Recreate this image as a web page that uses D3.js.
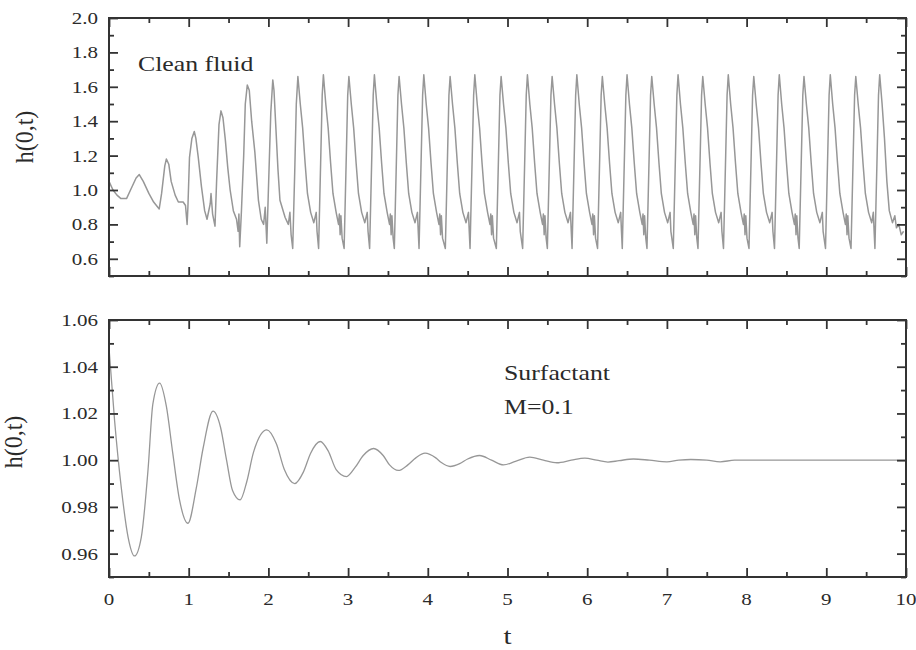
<!DOCTYPE html>
<html>
<head>
<meta charset="utf-8">
<script src="https://cdn.jsdelivr.net/npm/d3@7"></script>
<style>
    body { margin: 0; background: #fff; }
    svg text { font-family: "Liberation Serif", "Times New Roman", serif; fill: #2a2a2a; }
</style>
</head>
<body>
<svg id="chart" width="916" height="650"></svg>
<script>
// ---- data: [t, h(0,t)] ----
const cleanFluid = [
    [0.00,1.05],[0.05,1.00],[0.10,0.97],[0.15,0.95],[0.22,0.95],[0.28,1.01],[0.34,1.07],[0.38,1.09],
    [0.43,1.05],[0.50,0.98],[0.56,0.93],[0.63,0.89],[0.66,0.98],[0.70,1.14],[0.72,1.18],[0.75,1.15],
    [0.78,1.05],[0.83,0.97],[0.87,0.93],[0.93,0.93],[0.96,0.91],[0.98,0.80],[0.99,0.90],[1.01,1.19],
    [1.04,1.30],[1.07,1.34],[1.09,1.30],[1.12,1.19],[1.16,1.02],[1.20,0.88],[1.23,0.83],[1.27,0.92],
    [1.28,0.98],[1.30,0.86],[1.33,0.79],[1.35,1.05],[1.38,1.38],[1.405,1.46],[1.43,1.42],[1.46,1.29],
    [1.49,1.13],[1.52,1.00],[1.56,0.88],[1.60,0.83],[1.62,0.76],[1.63,0.86],[1.64,0.67],[1.66,0.86],
    [1.69,1.20],[1.71,1.50],[1.735,1.61],[1.76,1.58],[1.79,1.40],[1.83,1.22],[1.875,0.94],[1.91,0.83],
    [1.94,0.80],[1.96,0.90],[1.98,0.69],[2.00,1.00],[2.03,1.45],[2.055,1.64],[2.07,1.58],[2.095,1.35],
    [2.12,1.12],[2.145,0.94],[2.21,0.84],[2.25,0.80],[2.27,0.87],[2.285,0.74],[2.305,0.66],[2.33,1.10],
    [2.35,1.50],
    [2.37,1.66],[2.40,1.50],[2.43,1.36],[2.46,1.16],[2.49,0.98],[2.53,0.87],[2.57,0.81],[2.60,0.87],[2.61,0.76],[2.63,0.66],[2.655,1.15],[2.675,1.55],
    [2.69,1.67],[2.72,1.50],[2.75,1.36],[2.78,1.16],[2.81,0.98],[2.85,0.87],[2.88,0.80],[2.89,0.86],[2.90,0.74],[2.91,0.85],[2.925,0.72],[2.95,0.66],[2.975,1.15],[2.995,1.55],
    [3.01,1.66],[3.04,1.50],[3.07,1.36],[3.10,1.16],[3.13,0.98],[3.17,0.87],[3.21,0.81],[3.24,0.87],[3.25,0.76],[3.27,0.66],[3.295,1.15],[3.315,1.55],
    [3.33,1.67],[3.36,1.50],[3.39,1.36],[3.42,1.16],[3.45,0.98],[3.49,0.87],[3.52,0.80],[3.53,0.86],[3.54,0.74],[3.55,0.85],[3.565,0.72],[3.58,0.66],[3.605,1.15],[3.625,1.55],
    [3.64,1.66],[3.67,1.50],[3.70,1.36],[3.73,1.16],[3.76,0.98],[3.80,0.87],[3.84,0.81],[3.87,0.87],[3.88,0.76],[3.89,0.66],[3.915,1.15],[3.935,1.55],
    [3.95,1.67],[3.98,1.50],[4.01,1.36],[4.04,1.16],[4.07,0.98],[4.11,0.87],[4.14,0.80],[4.15,0.86],[4.16,0.74],[4.17,0.85],[4.185,0.72],[4.22,0.66],[4.245,1.15],[4.265,1.55],
    [4.28,1.66],[4.31,1.50],[4.34,1.36],[4.37,1.16],[4.40,0.98],[4.44,0.87],[4.48,0.81],[4.51,0.87],[4.52,0.76],[4.53,0.66],[4.555,1.15],[4.575,1.55],
    [4.59,1.67],[4.62,1.50],[4.65,1.36],[4.68,1.16],[4.71,0.98],[4.75,0.87],[4.78,0.80],[4.79,0.86],[4.80,0.74],[4.81,0.85],[4.825,0.72],[4.86,0.66],[4.885,1.15],[4.905,1.55],
    [4.92,1.66],[4.95,1.50],[4.98,1.36],[5.01,1.16],[5.04,0.98],[5.08,0.87],[5.12,0.81],[5.15,0.87],[5.16,0.76],[5.19,0.66],[5.215,1.15],[5.235,1.55],
    [5.25,1.67],[5.28,1.50],[5.31,1.36],[5.34,1.16],[5.37,0.98],[5.41,0.87],[5.44,0.80],[5.45,0.86],[5.46,0.74],[5.47,0.85],[5.485,0.72],[5.50,0.66],[5.525,1.15],[5.545,1.55],
    [5.56,1.66],[5.59,1.50],[5.62,1.36],[5.65,1.16],[5.68,0.98],[5.72,0.87],[5.76,0.81],[5.79,0.87],[5.80,0.76],[5.81,0.66],[5.835,1.15],[5.855,1.55],
    [5.87,1.67],[5.90,1.50],[5.93,1.36],[5.96,1.16],[5.99,0.98],[6.03,0.87],[6.06,0.80],[6.07,0.86],[6.08,0.74],[6.09,0.85],[6.105,0.72],[6.13,0.66],[6.155,1.15],[6.175,1.55],
    [6.19,1.66],[6.22,1.50],[6.25,1.36],[6.28,1.16],[6.31,0.98],[6.35,0.87],[6.39,0.81],[6.42,0.87],[6.43,0.76],[6.44,0.66],[6.465,1.15],[6.485,1.55],
    [6.50,1.67],[6.53,1.50],[6.56,1.36],[6.59,1.16],[6.62,0.98],[6.66,0.87],[6.69,0.80],[6.70,0.86],[6.71,0.74],[6.72,0.85],[6.735,0.72],[6.75,0.66],[6.775,1.15],[6.795,1.55],
    [6.81,1.66],[6.84,1.50],[6.87,1.36],[6.90,1.16],[6.93,0.98],[6.97,0.87],[7.01,0.81],[7.04,0.87],[7.05,0.76],[7.08,0.66],[7.105,1.15],[7.125,1.55],
    [7.14,1.67],[7.17,1.50],[7.20,1.36],[7.23,1.16],[7.26,0.98],[7.30,0.87],[7.33,0.80],[7.34,0.86],[7.35,0.74],[7.36,0.85],[7.375,0.72],[7.39,0.66],[7.415,1.15],[7.435,1.55],
    [7.45,1.66],[7.48,1.50],[7.51,1.36],[7.54,1.16],[7.57,0.98],[7.61,0.87],[7.65,0.81],[7.68,0.87],[7.69,0.76],[7.71,0.66],[7.735,1.15],[7.755,1.55],
    [7.77,1.67],[7.80,1.50],[7.83,1.36],[7.86,1.16],[7.89,0.98],[7.93,0.87],[7.96,0.80],[7.97,0.86],[7.98,0.74],[7.99,0.85],[8.005,0.72],[8.03,0.66],[8.055,1.15],[8.075,1.55],
    [8.09,1.66],[8.12,1.50],[8.15,1.36],[8.18,1.16],[8.21,0.98],[8.25,0.87],[8.29,0.81],[8.32,0.87],[8.33,0.76],[8.35,0.66],[8.375,1.15],[8.395,1.55],
    [8.41,1.67],[8.44,1.50],[8.47,1.36],[8.50,1.16],[8.53,0.98],[8.57,0.87],[8.60,0.80],[8.61,0.86],[8.62,0.74],[8.63,0.85],[8.645,0.72],[8.66,0.66],[8.685,1.15],[8.705,1.55],
    [8.72,1.66],[8.75,1.50],[8.78,1.36],[8.81,1.16],[8.84,0.98],[8.88,0.87],[8.92,0.81],[8.95,0.87],[8.96,0.76],[8.99,0.66],[9.015,1.15],[9.035,1.55],
    [9.05,1.67],[9.08,1.50],[9.11,1.36],[9.14,1.16],[9.17,0.98],[9.21,0.87],[9.24,0.80],[9.25,0.86],[9.26,0.74],[9.27,0.85],[9.285,0.72],[9.31,0.66],[9.335,1.15],[9.355,1.55],
    [9.37,1.66],[9.40,1.50],[9.43,1.36],[9.46,1.16],[9.49,0.98],[9.53,0.87],[9.57,0.81],[9.59,0.87],[9.60,0.76],[9.61,0.66],[9.635,1.15],[9.655,1.55],
    [9.67,1.67],[9.70,1.50],[9.73,1.30],[9.76,1.05],[9.79,0.88],[9.83,0.81],[9.86,0.85],[9.88,0.78],[9.91,0.80],[9.94,0.74],[9.97,0.76]
];

const surfactant = [
    [0.00,1.048],[0.07,1.017],[0.155,0.988],[0.24,0.967],[0.32,0.959],[0.405,0.967],[0.49,0.996],
    [0.55,1.024],[0.635,1.033],[0.72,1.023],[0.80,1.003],[0.885,0.983],[0.99,0.973],[1.095,0.988],
    [1.18,1.005],[1.305,1.021],[1.40,1.014],[1.475,1.000],[1.55,0.987],[1.645,0.983],[1.73,0.991],
    [1.81,1.003],[1.98,1.013],[2.10,1.007],[2.20,0.996],[2.33,0.990],[2.44,0.995],[2.53,1.003],
    [2.65,1.008],[2.75,1.004],[2.85,0.996],[2.98,0.993],[3.09,0.997],[3.19,1.002],[3.32,1.005],
    [3.44,1.002],[3.52,0.998],[3.63,0.9956],[3.75,0.998],[3.85,1.001],[3.965,1.003],[4.10,1.001],
    [4.17,0.999],[4.28,0.9973],[4.40,0.9985],[4.50,1.0005],[4.65,1.002],[4.80,1.000],[4.95,0.998],
    [5.10,0.9995],[5.28,1.0013],[5.45,1.000],[5.62,0.9989],[5.80,1.000],[5.97,1.0009],[6.12,1.000],
    [6.26,0.9992],[6.40,0.9998],[6.58,1.0005],[6.78,1.000],[7.00,0.9993],[7.15,1.000],[7.30,1.0003],
    [7.50,1.000],[7.67,0.9993],[7.85,1.000],[8.50,1.000],[9.20,1.000],[10.00,1.000]
];

// ---- axis ticks ----
const tMajor = [0, 1, 2, 3, 4, 5, 6, 7, 8, 9, 10];
const tMinor = [0.5, 1.5, 2.5, 3.5, 4.5, 5.5, 6.5, 7.5, 8.5, 9.5];
const hTopMajor = [0.6, 0.8, 1.0, 1.2, 1.4, 1.6, 1.8, 2.0];
const hTopMinor = [0.5, 0.7, 0.9, 1.1, 1.3, 1.5, 1.7, 1.9];
const hBotMajor = [0.96, 0.98, 1.00, 1.02, 1.04, 1.06];
const hBotMinor = [0.95, 0.97, 0.99, 1.01, 1.03, 1.05];

const svg = d3.select('#chart');
const SX = 1.2;   // the source figure is stretched horizontally
const left = 109, right = 906;

// scaled text helper
function label(g, x, y, txt, size, anchor = 'start', rot = 0) {
    const sx = rot ? 1.05 : SX;
    return g.append('text')
        .attr('transform', `translate(${x},${y}) scale(${sx},1)` + (rot ? ` rotate(${rot})` : ''))
        .attr('text-anchor', anchor)
        .style('font-size', size + 'px')
        .text(txt);
}

function panel(cfg) {
    const g = svg.append('g');
    const x = d3.scaleLinear().domain([0, 10]).range([left, right]);
    const y = d3.scaleLinear().domain(cfg.yDomain).range([cfg.bottom, cfg.top]);

    g.append('clipPath').attr('id', cfg.id)
        .append('rect').attr('x', left).attr('y', cfg.top)
        .attr('width', right - left).attr('height', cfg.bottom - cfg.top);

    const line = d3.line().x(d => x(d[0])).y(d => y(d[1])).curve(cfg.curve);
    g.append('path').datum(cfg.data)
        .attr('clip-path', `url(#${cfg.id})`)
        .attr('fill', 'none')
        .attr('stroke', '#979797')
        .attr('stroke-width', cfg.lw)
        .attr('stroke-linejoin', 'round')
        .attr('d', line);

    // ticks on all four sides, pointing inward
    const sides = [
        [d3.axisBottom, x, `translate(0,${cfg.bottom})`, tMajor, tMinor],
        [d3.axisTop, x, `translate(0,${cfg.top})`, tMajor, tMinor],
        [d3.axisLeft, y, `translate(${left},0)`, cfg.yMajor, cfg.yMinor],
        [d3.axisRight, y, `translate(${right},0)`, cfg.yMajor, cfg.yMinor]
    ];
    for (let [axisFn, sc, tr, major, minor] of sides) {
        for (let [vals, len] of [[major, 9], [minor, 5]]) {
            const ax = g.append('g').attr('transform', tr)
                .call(axisFn(sc).tickValues(vals).tickSize(-len).tickFormat(''));
            ax.select('.domain').remove();
            ax.selectAll('line').attr('stroke', '#333').attr('stroke-width', 1.8);
        }
    }

    // frame
    g.append('rect')
        .attr('x', left).attr('y', cfg.top)
        .attr('width', right - left).attr('height', cfg.bottom - cfg.top)
        .attr('fill', 'none').attr('stroke', '#333').attr('stroke-width', 2);

    // y tick labels
    for (let v of cfg.yMajor) {
        label(g, left - 11, y(v) + 6, cfg.yFmt(v), 17.5, 'end');
    }
    // y axis title
    label(g, cfg.yTitleX, cfg.yTitleY, 'h(0,t)', 24, 'middle', -90);

    if (cfg.showX) {
        for (let v of tMajor) label(g, x(v), cfg.bottom + 28, String(v), 17.5, 'middle');
        label(g, (left + right) / 2, cfg.bottom + 67, 't', 24, 'middle');
    }
    return g;
}

const topPanel = panel({
    id: 'clipTop', data: cleanFluid, curve: d3.curveLinear, lw: 1.5,
    top: 18, bottom: 276, yDomain: [0.5, 2.0],
    yMajor: hTopMajor, yMinor: hTopMinor, yFmt: d3.format('.1f'),
    yTitleX: 33, yTitleY: 137, showX: false
});
label(topPanel, 138, 71, 'Clean fluid', 21.5);

const botPanel = panel({
    id: 'clipBot', data: surfactant, curve: d3.curveMonotoneX, lw: 1.3,
    top: 320, bottom: 577, yDomain: [0.95, 1.06],
    yMajor: hBotMajor, yMinor: hBotMinor, yFmt: d3.format('.2f'),
    yTitleX: 22, yTitleY: 442, showX: true
});
label(botPanel, 504, 380, 'Surfactant', 21.5);
label(botPanel, 504, 414, 'M=0.1', 21.5);
</script>
</body>
</html>
